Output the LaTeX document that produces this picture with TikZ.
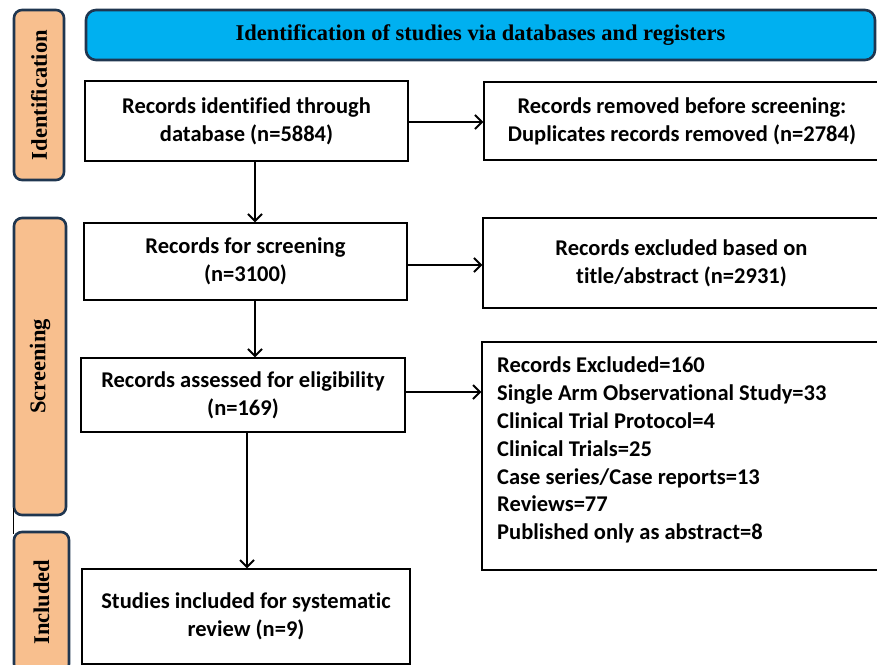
\documentclass[tikz,border=0pt]{standalone}
\usepackage{fontspec}
\setmainfont{Carlito}[Ligatures=CommonOff]
\newfontfamily\tnr{Liberation Serif}
\usetikzlibrary{arrows.meta}

\definecolor{navy}{HTML}{1F3650}
\definecolor{peach}{HTML}{F8BF8E}
\definecolor{skyblue}{HTML}{00B0F0}

\tikzset{
  tab/.style={draw=navy,fill=peach,line width=2.6pt,rounded corners=8pt,rotate=90,
    font=\tnr\bfseries\fontsize{22.5}{26}\selectfont,inner sep=0pt},
  header/.style={draw=navy,fill=skyblue,line width=2.6pt,rounded corners=10pt,
    font=\tnr\bfseries\fontsize{22.5}{26}\selectfont,inner sep=0pt},
  box/.style={draw,line width=1.2pt,align=center,inner sep=0pt,
    font=\bfseries\fontsize{22.5}{28}\selectfont},
  listtext/.style={align=left,inner sep=0pt,font=\bfseries\fontsize{22.5}{27.8}\selectfont},
  arr/.style={-{Straight Barb[length=7pt,width=14pt]},line width=2pt},
}

\begin{document}
\begin{tikzpicture}[x=1pt,y=-1pt]
\useasboundingbox (0,0) rectangle (877,664);

% stage tabs
\node[tab,minimum width=170pt,minimum height=50pt] (tabid) at (39,95) {Identification};
\node[tab,minimum width=297pt,minimum height=52pt] (tabscr) at (40,366.5) {Screening};
\node[tab,minimum width=140pt,minimum height=55pt] (tabinc) at (41.5,602) {Included};
\draw[line width=0.8pt] (13,508) -- (13,534);

% header
\node[header,minimum width=789pt,minimum height=50pt] (head) at (480.5,35) {Identification of studies via databases and registers};

% flow boxes
\node[box,minimum width=323pt,minimum height=80pt] (ident) at (246.5,121) {Records identified through\\database (n=5884)};
\node[box,minimum width=396pt,minimum height=78pt] (dup) at (682,121) {Records removed before screening:\\Duplicates records removed (n=2784)};
\node[box,minimum width=323pt,minimum height=77pt] (scr) at (245.5,261.5) {Records for screening\\(n=3100)};
\node[box,minimum width=397pt,minimum height=90pt] (excl) at (681.5,263) {Records excluded based on\\title/abstract (n=2931)};
\node[box,minimum width=324pt,minimum height=74pt] (elig) at (243,395) {Records assessed for eligibility\\(n=169)};
\node[box,minimum width=398pt,minimum height=228pt] (reasons) at (681,456) {};
\node[listtext,anchor=north west] (reasonlist) at (497,357) {Records Excluded=160\\Single Arm Observational Study=33\\Clinical Trial Protocol=4\\Clinical Trials=25\\Case series/Case reports=13\\Reviews=77\\Published only as abstract=8};
\node[box,minimum width=328pt,minimum height=95pt] (incl) at (246,616.5) {Studies included for systematic\\review (n=9)};

% connectors
\draw[arr] (ident.south -| 255,0) -- (scr.north -| 255,0);
\draw[arr] (scr.south -| 255,0) -- (elig.north -| 255,0);
\draw[arr] (elig.south -| 247,0) -- (incl.north -| 247,0);
\draw[arr] (ident.east |- 0,122) -- (dup.west |- 0,122);
\draw[arr] (scr.east |- 0,265) -- (excl.west |- 0,265);
\draw[arr] (elig.east |- 0,392) -- (reasons.west |- 0,392);
\end{tikzpicture}
\end{document}
